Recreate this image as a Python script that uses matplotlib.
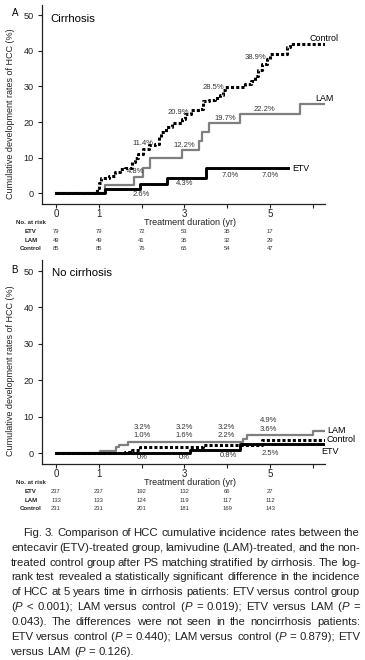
import numpy as np
import matplotlib
matplotlib.use('Agg')
import matplotlib.pyplot as plt
import matplotlib.transforms as mtransforms

plt.rcParams['font.family'] = ['Liberation Sans', 'DejaVu Sans']

W, H = 365, 660

# ---- panel A (cirrhosis): time (yr), cumulative rate (%)
a_etv_t = [0, 1.15, 1.96, 2.60, 3.50, 5.43]
a_etv_y = [0, 1.2, 2.6, 4.3, 7.0, 7.0]
a_lam_t = [0, 1.14, 1.82, 2.04, 2.20, 2.94, 3.35, 3.42, 3.57, 4.30, 5.70, 6.28]
a_lam_y = [0, 2.2, 4.7, 7.2, 9.8, 12.2, 14.6, 17.2, 19.7, 22.2, 25.2, 25.2]
a_ctl_t = [0, 0.95, 1.00, 1.05, 1.25, 1.38, 1.50, 1.62, 1.77, 1.85, 1.92, 2.04, 2.18,
           2.31, 2.40, 2.45, 2.58, 2.70, 2.94, 3.01, 3.15, 3.36, 3.44, 3.58, 3.71,
           3.83, 3.91, 3.95, 4.42, 4.55, 4.65, 4.73, 4.81, 4.92, 5.00, 5.39, 5.47, 6.28]
a_ctl_y = [0, 1.5, 3.0, 4.4, 5.0, 5.9, 6.9, 7.2, 8.8, 9.9, 11.1, 12.5, 13.5,
           13.9, 15.8, 17.2, 18.5, 19.7, 20.9, 22.3, 23.3, 23.7, 26.0, 26.3, 26.8,
           27.6, 28.9, 29.8, 30.7, 31.5, 33.0, 34.6, 36.3, 37.7, 39.1, 41.0, 41.9, 41.9]

# ---- panel B (no cirrhosis)
b_etv_t = [0, 3.13, 4.30, 6.28]
b_etv_y = [0, 0.8, 2.5, 2.5]
b_lam_t = [0, 1.03, 1.40, 1.47, 1.69, 4.38, 4.46, 6.00, 6.28]
b_lam_y = [0, 0.7, 1.6, 2.4, 3.2, 4.0, 4.9, 6.0, 6.0]
b_ctl_t = [0, 1.62, 1.78, 1.96, 3.44, 4.82, 6.28]
b_ctl_y = [0, 0.4, 0.9, 1.6, 2.2, 3.6, 3.6]

# percentage annotations: (text, x in yr, y in %)
a_notes = [('11.4%', 2.04, 14.1), ('20.9%', 2.86, 22.8), ('28.5%', 3.68, 29.8), ('38.9%', 4.65, 38.2),
           ('4.8%', 1.85, 6.0), ('12.2%', 2.99, 13.4), ('19.7%', 3.95, 20.9), ('22.2%', 4.88, 23.4),
           ('2.6%', 2.00, -0.3), ('4.3%', 3.00, 2.7), ('7.0%', 4.07, 5.0), ('7.0%', 5.00, 5.0)]
b_notes = [('3.2%', 2.02, 7.2), ('1.0%', 2.02, 4.9), ('3.2%', 3.0, 7.2), ('1.6%', 3.0, 4.9),
           ('3.2%', 3.97, 7.2), ('2.2%', 3.97, 4.9), ('4.9%', 4.97, 8.9), ('3.6%', 4.97, 6.4),
           ('0%', 2.02, -1.15), ('0%', 3.0, -1.15), ('0.8%', 4.02, -0.5), ('2.5%', 5.0, -0.05)]

risk_years = [0, 1, 2, 3, 4, 5]
risk_groups = ['ETV', 'LAM', 'Control']
a_risk = [[79, 79, 72, 53, 35, 17], [49, 49, 41, 35, 32, 29], [85, 85, 76, 65, 54, 47]]
b_risk = [[237, 237, 192, 132, 66, 27], [133, 133, 124, 119, 117, 112], [231, 231, 201, 181, 169, 143]]

caption = [
    "Fig. 3. Comparison of HCC cumulative incidence rates between the",
    "entecavir (ETV)-treated group, lamivudine (LAM)-treated, and the non-",
    "treated control group after PS matching stratified by cirrhosis. The log-",
    "rank test revealed a statistically significant difference in the incidence",
    "of HCC at 5 years time in cirrhosis patients: ETV versus control group",
    "(*P* < 0.001); LAM versus control (*P* = 0.019); ETV versus LAM (*P* =",
    "0.043). The differences were not seen in the noncirrhosis patients:",
    "ETV versus control (*P* = 0.440); LAM versus control (*P* = 0.879); ETV",
    "versus LAM (*P* = 0.126).",
]

fig = plt.figure(figsize=(W / 100, H / 100), dpi=100)
fig.patch.set_facecolor('white')


def make_axes(top, bottom):
    left, right = 42, 325
    ax = fig.add_axes([left / W, 1 - bottom / H, (right - left) / W, (bottom - top) / H])
    ax.set_xlim(-0.327, 6.285)
    ax.set_ylim(-3, 53)
    for s in ['top', 'right']:
        ax.spines[s].set_visible(False)
    for s in ['left', 'bottom']:
        ax.spines[s].set_linewidth(0.9)
        ax.spines[s].set_color('#222222')
    ax.set_xticks(range(7))
    ax.set_xticklabels(['0', '1', '', '3', '', '5', ''])
    ax.set_yticks([0, 10, 20, 30, 40, 50])
    ax.tick_params(axis='x', length=3, width=0.8, pad=0.6, labelsize=7, colors='#222222')
    ax.tick_params(axis='y', length=3, width=0.8, pad=3, labelsize=6.6, colors='#222222')
    ax.patch.set_alpha(0)
    return ax


def draw_curves(ax, ctl, lam, etv):
    ax.plot(ctl[0], ctl[1], drawstyle='steps-post', color='black', lw=2.2,
            dashes=(1.0, 0.7), zorder=2)
    ax.plot(lam[0], lam[1], drawstyle='steps-post', color='#7f7f7f', lw=1.6, zorder=3)
    ax.plot(etv[0], etv[1], drawstyle='steps-post', color='black', lw=2.1, zorder=4)


def risk_table(ax, rows, y_head):
    tr = mtransforms.blended_transform_factory(ax.transData, fig.transFigure)
    fig.text(16 / W, 1 - y_head / H, 'No. at risk', fontsize=4.4, fontweight='bold',
             va='center', ha='left', color='#222222')
    for i, g in enumerate(risk_groups):
        yy = 1 - (y_head + 9 + 8.3 * i) / H
        fig.text(31 / W, yy, g, fontsize=4.4, fontweight='bold', va='center', ha='center',
                 color='#222222')
        for yr, n in zip(risk_years, rows[i]):
            ax.text(yr, yy, str(n), transform=tr, fontsize=4.2, va='center', ha='center',
                    color='#333333', clip_on=False)


# ---- panel A
axA = make_axes(4.6, 204)
draw_curves(axA, (a_ctl_t, a_ctl_y), (a_lam_t, a_lam_y), (a_etv_t, a_etv_y))
for t, x, y in a_notes:
    axA.text(x, y, t, fontsize=5.5, ha='center', va='center', color='#333333')
axA.text(5.93, 43.6, 'Control', fontsize=6.4, ha='left', va='center')
axA.text(6.05, 26.5, 'LAM', fontsize=6.4, ha='left', va='center')
axA.text(5.51, 6.9, 'ETV', fontsize=6.4, ha='left', va='center')
fig.text(15.5 / W, 1 - 12.5 / H, 'A', fontsize=7, ha='center', va='center')
fig.text(50 / W, 1 - 21.7 / H, 'Cirrhosis', fontsize=8.2, ha='left', va='baseline')
fig.text(11 / W, 1 - 114 / H, 'Cumulative development rates of HCC (%)', fontsize=6.5,
         rotation=90, ha='center', va='center', color='#222222')
fig.text(190 / W, 1 - 222.6 / H, 'Treatment duration (yr)', fontsize=6.5, ha='center',
         va='center', color='#222222')
risk_table(axA, a_risk, 222.7)

# ---- panel B
axB = make_axes(260.1, 464.2)
draw_curves(axB, (b_ctl_t, b_ctl_y), (b_lam_t, b_lam_y), (b_etv_t, b_etv_y))
for t, x, y in b_notes:
    axB.text(x, y, t, fontsize=5.5, ha='center', va='center', color='#333333')
axB.text(6.33, 6.3, 'LAM', fontsize=6.5, ha='left', va='center', clip_on=False)
axB.text(6.33, 3.8, 'Control', fontsize=6.5, ha='left', va='center', clip_on=False)
axB.text(6.2, 0.5, 'ETV', fontsize=6.5, ha='left', va='center', clip_on=False)
fig.text(14.5 / W, 1 - 270 / H, 'B', fontsize=7, ha='center', va='center')
fig.text(52 / W, 1 - 275.5 / H, 'No cirrhosis', fontsize=8.2, ha='left', va='baseline')
fig.text(11 / W, 1 - 371 / H, 'Cumulative development rates of HCC (%)', fontsize=6.5,
         rotation=90, ha='center', va='center', color='#222222')
fig.text(190 / W, 1 - 482.6 / H, 'Treatment duration (yr)', fontsize=6.5, ha='center',
         va='center', color='#222222')
risk_table(axB, b_risk, 482.7)

# ---- justified caption
fig.canvas.draw()
renderer = fig.canvas.get_renderer()
cap_font = ['Liberation Sans', 'DejaVu Sans']
cap_color = '#231f20'


def parse(word):
    parts = word.split('*')
    return [(p, 'italic' if i % 2 else 'normal') for i, p in enumerate(parts) if p]


def seg_width(s, style, size):
    t = fig.text(0, 0, s, fontsize=size, family=cap_font, style=style)
    w = t.get_window_extent(renderer).width
    t.remove()
    return w


def word_width(word, size):
    return sum(seg_width(s, st, size) for s, st in parse(word))


# fit the font size so the widest justified line has about normal word spacing
cap_size = 7.5
right_edge = 360
lefts = [22.7] + [11] * 8
worst = 0.0
sp = seg_width('x x', 'normal', cap_size) - seg_width('xx', 'normal', cap_size)
for i, line in enumerate(caption[:-1]):
    words = line.split(' ')
    nat = sum(word_width(w, cap_size) for w in words) + 0.8 * sp * (len(words) - 1)
    worst = max(worst, nat / (right_edge - lefts[i]))
cap_size = min(cap_size / worst, 8.2)

space = seg_width('x x', 'normal', cap_size) - seg_width('xx', 'normal', cap_size)
for i, line in enumerate(caption):
    words = line.split(' ')
    widths = [word_width(w, cap_size) for w in words]
    base = 535.7 + 14.9 * i
    if i < len(caption) - 1:
        gap = (right_edge - lefts[i] - sum(widths)) / (len(words) - 1)
    else:
        gap = space
    x = lefts[i]
    for w, ww in zip(words, widths):
        xx = x
        for s, st in parse(w):
            fig.text(xx / W, 1 - base / H, s, fontsize=cap_size, family=cap_font, style=st,
                     va='baseline', ha='left', color=cap_color)
            xx += seg_width(s, st, cap_size)
        x += ww + gap

fig.savefig('out.png', dpi=100)
